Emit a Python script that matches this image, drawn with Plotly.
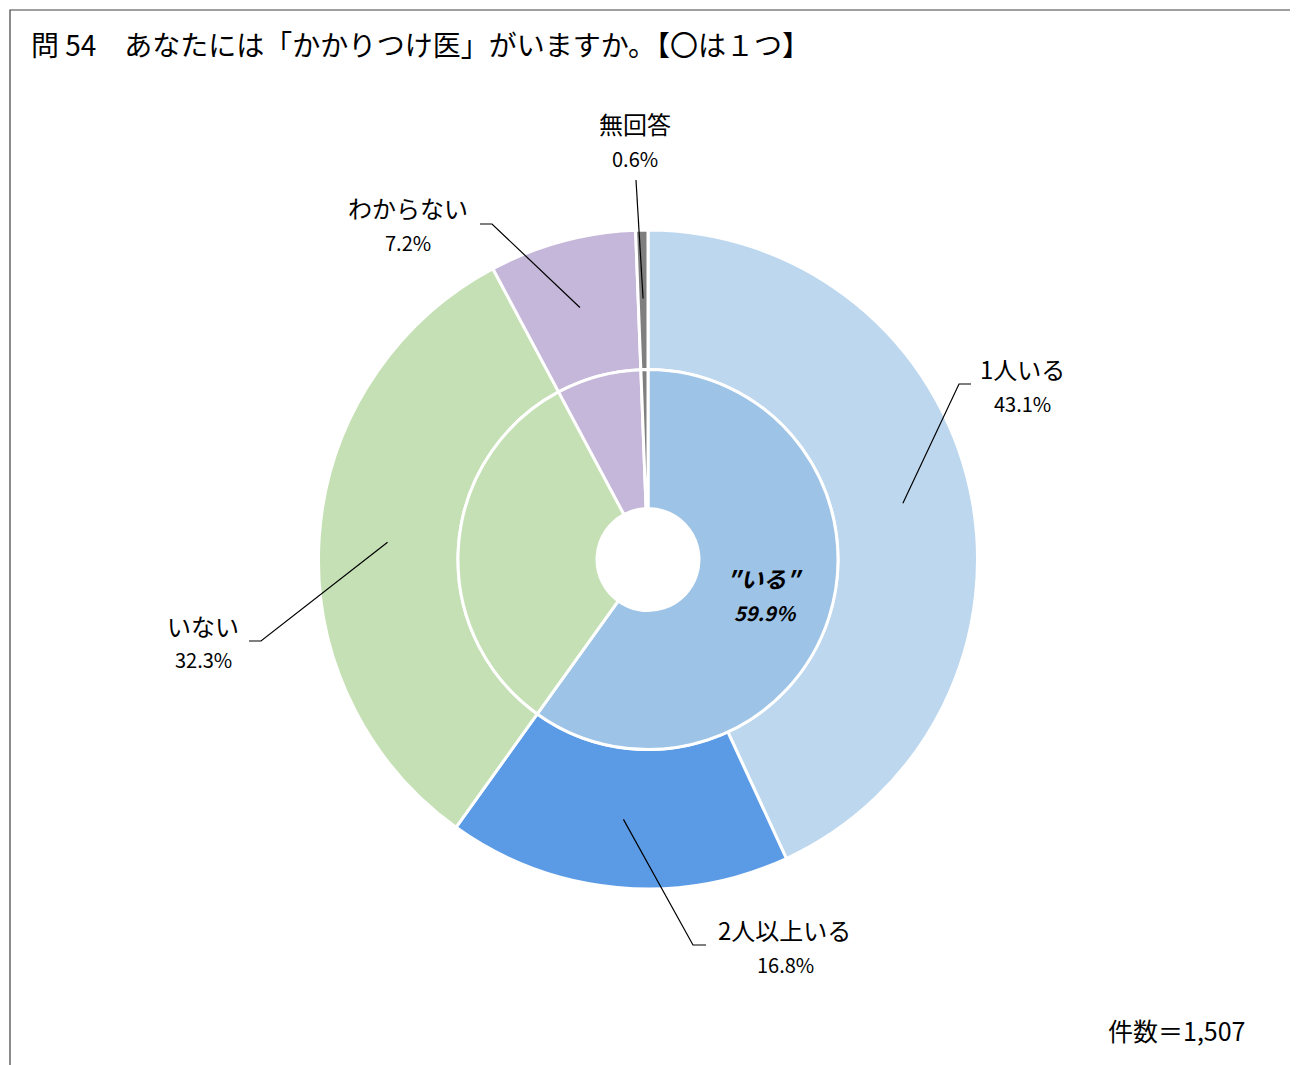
import math
import plotly.graph_objects as go

# ---- data ----
outer_labels = ["1人いる", "2人以上いる", "いない", "わからない", "無回答"]
outer_values = [43.1, 16.8, 32.3, 7.2, 0.6]
inner_labels = ["いる", "いない", "わからない", "無回答"]
inner_values = [59.9, 32.3, 7.2, 0.6]
title_text = "問 54　あなたには「かかりつけ医」がいますか。【〇は１つ】"
count_text = "件数＝1,507"

# ---- styles ----
outer_colors = ["#BDD7EE", "#5B9BE6", "#C5E0B4", "#C5B7D9", "#7F7F7F"]
inner_colors = ["#9DC3E6", "#C5E0B4", "#C5B7D9", "#7F7F7F"]

OFF = 8  # page body margin
W, H = 1298 - OFF, 1065 - OFF
CX, CY = 648, 559.5
R_OUT, R_MID, R_HOLE = 329.5, 190, 51
FONT = "Noto Sans CJK JP"


def px(x):
    return (x - OFF) / W


def py(y):
    return 1 - (y - OFF) / H


def dom(r):
    return dict(x=[px(CX - r), px(CX + r)], y=[py(CY + r), py(CY - r)])


fig = go.Figure()
fig.add_trace(go.Pie(
    labels=outer_labels, values=outer_values, sort=False, direction="clockwise",
    rotation=0, hole=R_MID / R_OUT, domain=dom(R_OUT), textinfo="none",
    marker=dict(colors=outer_colors, line=dict(color="white", width=3)),
    showlegend=False, hoverinfo="label+percent",
))
fig.add_trace(go.Pie(
    labels=inner_labels, values=inner_values, sort=False, direction="clockwise",
    rotation=0, hole=R_HOLE / R_MID, domain=dom(R_MID), textinfo="none",
    marker=dict(colors=inner_colors, line=dict(color="white", width=3)),
    showlegend=False, hoverinfo="label+percent",
))

# label layout: (name center, pct center, elbow/end points of leader line)
label_layout = {
    "1人いる": dict(name=(1023, 368), pct=(1023, 403), path=[(959, 384), (971, 384)]),
    "2人以上いる": dict(name=(784, 929), pct=(785, 964), path=[(693, 945), (706, 945)]),
    "いない": dict(name=(203, 625), pct=(203, 659), path=[(261, 641), (249, 641)]),
    "わからない": dict(name=(408, 208), pct=(408, 242), path=[(492, 224), (480, 224)]),
    "無回答": dict(name=(635, 123), pct=(635, 159), path=[(636, 180)]),
}

shapes = []
annotations = []
total = sum(outer_values)
cum = 0
R_LEAD = 261
for lab, val in zip(outer_labels, outer_values):
    mid = (cum + val / 2) / total * 2 * math.pi
    cum += val
    sx = CX + R_LEAD * math.sin(mid)
    sy = CY - R_LEAD * math.cos(mid)
    lay = label_layout[lab]
    pts = [(sx, sy)] + lay["path"]
    d = "M " + " L ".join(f"{px(x):.5f},{py(y):.5f}" for x, y in pts)
    shapes.append(dict(type="path", path=d, xref="paper", yref="paper",
                       line=dict(color="black", width=1.2)))
    annotations.append(dict(text=lab, x=px(lay["name"][0]), y=py(lay["name"][1]),
                            xref="paper", yref="paper", showarrow=False,
                            xanchor="center", yanchor="middle",
                            font=dict(family=FONT, size=24, color="black")))
    annotations.append(dict(text=f"{val:.1f}%", x=px(lay["pct"][0]), y=py(lay["pct"][1]),
                            xref="paper", yref="paper", showarrow=False,
                            xanchor="center", yanchor="middle",
                            font=dict(family=FONT, size=20, color="black")))

# inner "いる" label
annotations.append(dict(text="<b><i>″いる″</i></b>", x=px(765), y=py(578), xref="paper", yref="paper",
                        showarrow=False, xanchor="center", yanchor="middle",
                        font=dict(family=FONT, size=23, color="black")))
annotations.append(dict(text=f"<b><i>{inner_values[0]:.1f}%</i></b>", x=px(765), y=py(612),
                        xref="paper", yref="paper", showarrow=False,
                        xanchor="center", yanchor="middle",
                        font=dict(family=FONT, size=20, color="black")))

# title and count
annotations.append(dict(text=title_text, x=px(29), y=py(44), xref="paper", yref="paper",
                        showarrow=False, xanchor="left", yanchor="middle",
                        font=dict(family=FONT, size=28, color="black")))
annotations.append(dict(text=count_text, x=px(1247), y=py(1030), xref="paper", yref="paper",
                        showarrow=False, xanchor="right", yanchor="middle",
                        font=dict(family=FONT, size=25, color="black")))

# frame
shapes.append(dict(type="rect", xref="paper", yref="paper", x0=px(10), x1=1.05,
                   y0=-0.05, y1=py(10), line=dict(color="#404040", width=1.2)))

fig.update_layout(
    width=W, height=H, margin=dict(l=0, r=0, t=0, b=0),
    paper_bgcolor="white", plot_bgcolor="white",
    shapes=shapes, annotations=annotations,
)
fig.write_html("out.html")
